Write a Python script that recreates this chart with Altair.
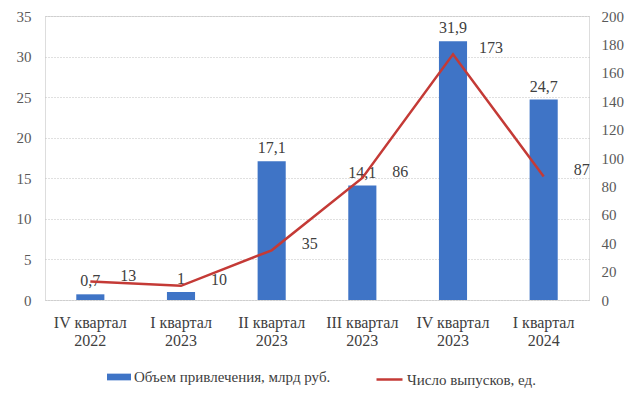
import altair as alt
import pandas as pd

categories = ["IV квартал 2022", "I квартал 2023", "II квартал 2023",
              "III квартал 2023", "IV квартал 2023", "I квартал 2024"]
volume = [0.7, 1, 17.1, 14.1, 31.9, 24.7]
issues = [13, 10, 35, 86, 173, 87]
left_ticks = [0, 5, 10, 15, 20, 25, 30, 35]
right_ticks = [0, 20, 40, 60, 80, 100, 120, 140, 160, 180, 200]

bar_name = "Объем привлечения, млрд руб."
line_name = "Число выпусков, ед."

df = pd.DataFrame({"cat": categories, "volume": volume, "issues": issues})
df["bar_series"] = bar_name
df["line_series"] = line_name

FONT = "Liberation Serif"
TXT = "#404040"
BAR = "#3f74c6"

x = alt.X("cat:N", sort=categories, title=None,
          scale=alt.Scale(paddingInner=0.69, paddingOuter=0.345),
          axis=alt.Axis(labelExpr="[slice(datum.label, 0, lastindexof(datum.label, ' ')), slice(datum.label, lastindexof(datum.label, ' ') + 1)]",
                        labelAngle=0, labelFont=FONT, labelFontSize=16, labelColor=TXT,
                        labelLineHeight=18, labelPadding=14, ticks=False, domain=False,
                        labelBaseline="top"))

y_left = alt.Y("volume:Q", title=None,
               scale=alt.Scale(domain=[0, 35]),
               axis=alt.Axis(values=left_ticks, tickCount=8, labelFont=FONT,
                             labelFontSize=15, labelColor="#595959", ticks=False,
                             domain=False, labelPadding=14, grid=True,
                             gridColor="#c0c0c0", gridDash=[1, 2], gridWidth=1))

y_right = alt.Y("issues:Q", title=None, scale=alt.Scale(domain=[0, 200]),
                axis=alt.Axis(orient="right", values=right_ticks, tickCount=11,
                              labelFont=FONT, labelFontSize=15,
                              labelColor="#595959", ticks=False, domain=False,
                              labelPadding=12, grid=False, labelOverlap=False))

base = alt.Chart(df)

bars = base.mark_bar(color=BAR).encode(
    x=x,
    y=y_left,
    color=alt.Color("bar_series:N", title=None,
                    scale=alt.Scale(range=[BAR]),
                    legend=alt.Legend(orient="none", legendX=62, legendY=349,
                                      symbolType="M-1,-0.28H1V0.28H-1Z",
                                      symbolSize=576, symbolStrokeWidth=0,
                                      labelFont=FONT, labelFontSize=15,
                                      labelColor=TXT, labelOffset=3,
                                      labelLimit=400)),
)

bar_labels = base.mark_text(font=FONT, fontSize=16, color=TXT, dy=-5,
                            baseline="bottom").transform_calculate(
    lbl="replace(toString(datum.volume), '.', ',')"
).encode(
    x=x,
    y=y_left,
    text="lbl:N",
)

left = alt.layer(bars, bar_labels)

line = base.mark_line(strokeWidth=2.5).encode(
    x=x,
    y=y_right,
    stroke=alt.Stroke("line_series:N", title=None,
                      scale=alt.Scale(range=["#c43a36"]),
                      legend=alt.Legend(orient="none", legendX=330, legendY=349,
                                        symbolType="stroke", symbolSize=676,
                                        symbolStrokeWidth=2.5,
                                        labelFont=FONT, labelFontSize=15,
                                        labelColor=TXT, labelOffset=3,
                                        labelLimit=400)),
)

line_labels = base.mark_text(font=FONT, fontSize=16, color=TXT, dx=38, dy=-6).encode(
    x=x,
    y=y_right,
    text="issues:Q",
)

right = alt.layer(line, line_labels)

chart = alt.layer(left, right).resolve_scale(
    y="independent", color="independent", stroke="independent"
).properties(
    width=544, height=284,
    autosize=alt.AutoSizeParams(type="none"),
    padding={"left": 37, "top": 8, "right": 45, "bottom": 91},
).configure_view(stroke=None).configure(font=FONT)

chart.save("out.html", embed_options={"renderer": "svg", "actions": False})
